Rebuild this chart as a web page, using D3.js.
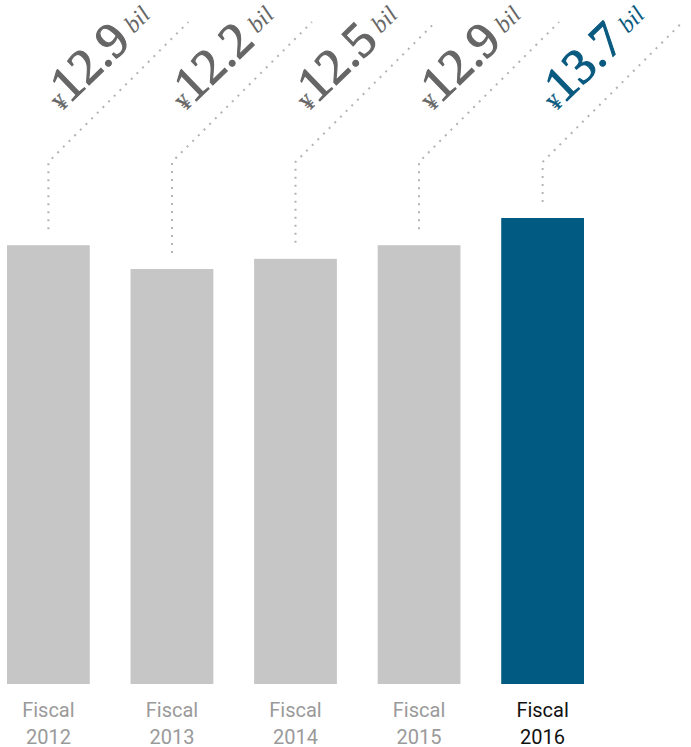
<!DOCTYPE html>
<html>
<head>
<meta charset="utf-8">
<script src="https://cdn.jsdelivr.net/npm/d3@7"></script>
<style>
  body { margin: 0; background: #fff; }
  svg { display: block; }
</style>
</head>
<body>
<svg id="chart"></svg>
<script>
var years = ["2012", "2013", "2014", "2015", "2016"]
var values = [12.9, 12.2, 12.5, 12.9, 13.7]
var valueLabels = ["12.9", "12.2", "12.5", "12.9", "13.7"]
var highlight = "2016"

var width = 691
var height = 747
var baseline = 684

var svg = d3.select("#chart")
            .attr("width", width)
            .attr("height", height)

var xScale = d3.scaleBand()
               .domain(years)
               .range([7, 584])
               .paddingInner(0.33)
               .paddingOuter(0)

// 0 -> baseline, 13.7 -> 218
var yScale = d3.scaleLinear()
               .domain([0, 13.7])
               .range([baseline, 218])

var data = years.map((y, i) => ({year: y, value: values[i], label: valueLabels[i]}))

var grey = "#c6c6c6"
var blue = "#005a82"

svg.selectAll(".bar")
   .data(data)
   .join("rect")
   .attr("class", "bar")
   .attr("x", d => xScale(d.year))
   .attr("y", d => yScale(d.value))
   .attr("width", xScale.bandwidth())
   .attr("height", d => baseline - yScale(d.value))
   .attr("fill", d => d.year == highlight ? blue : grey)

// leader lines: vertical up from bar, then 45deg up to the right
var elbowY = 162
var topY = 22
var gap = 16

svg.selectAll(".leader")
   .data(data)
   .join("path")
   .attr("class", "leader")
   .attr("d", d => {
       var cx = xScale(d.year) + xScale.bandwidth() / 2
       var y0 = yScale(d.value) - gap
       return `M${cx},${y0}L${cx},${elbowY}L${cx + (elbowY - topY)},${topY}`
   })
   .attr("fill", "none")
   .attr("stroke", "#b3b3b3")
   .attr("stroke-width", 2)
   .attr("stroke-dasharray", "2 6")

var labels = svg.selectAll(".val")
   .data(data)
   .join("g")
   .attr("class", "val")
   .attr("transform", d => {
       var cx = xScale(d.year) + xScale.bandwidth() / 2
       return `translate(${cx},${elbowY}) rotate(-44)`
   })

var txt = labels.append("text")
   .attr("x", 110)
   .attr("y", -27)
   .attr("text-anchor", "middle")
   .attr("font-family", "'Liberation Serif', serif")
   .attr("fill", d => d.year == highlight ? "#0a5a80" : "#666666")
   .attr("stroke", d => d.year == highlight ? "#0a5a80" : "#666666")

txt.append("tspan")
   .attr("font-size", 22)
   .attr("stroke-width", 0.4)
   .text("¥")
txt.append("tspan")
   .attr("font-size", 50)
   .attr("stroke-width", 1.1)
   .text(d => d.label)
txt.append("tspan")
   .attr("font-size", 24)
   .attr("stroke-width", 0)
   .attr("font-style", "italic")
   .attr("dx", 7)
   .attr("dy", -6)
   .text("bil")

// category labels
var cats = svg.selectAll(".cat")
   .data(data)
   .join("text")
   .attr("class", "cat")
   .attr("text-anchor", "middle")
   .attr("x", d => xScale(d.year) + xScale.bandwidth() / 2)
   .attr("y", 717)
   .attr("font-family", "Roboto, sans-serif")
   .attr("font-size", 20)
   .attr("fill", d => d.year == highlight ? "#111111" : "#9a9a9a")

cats.append("tspan")
    .text("Fiscal")
cats.append("tspan")
    .attr("x", d => xScale(d.year) + xScale.bandwidth() / 2)
    .attr("dy", 26.5)
    .text(d => d.year)
</script>
</body>
</html>
